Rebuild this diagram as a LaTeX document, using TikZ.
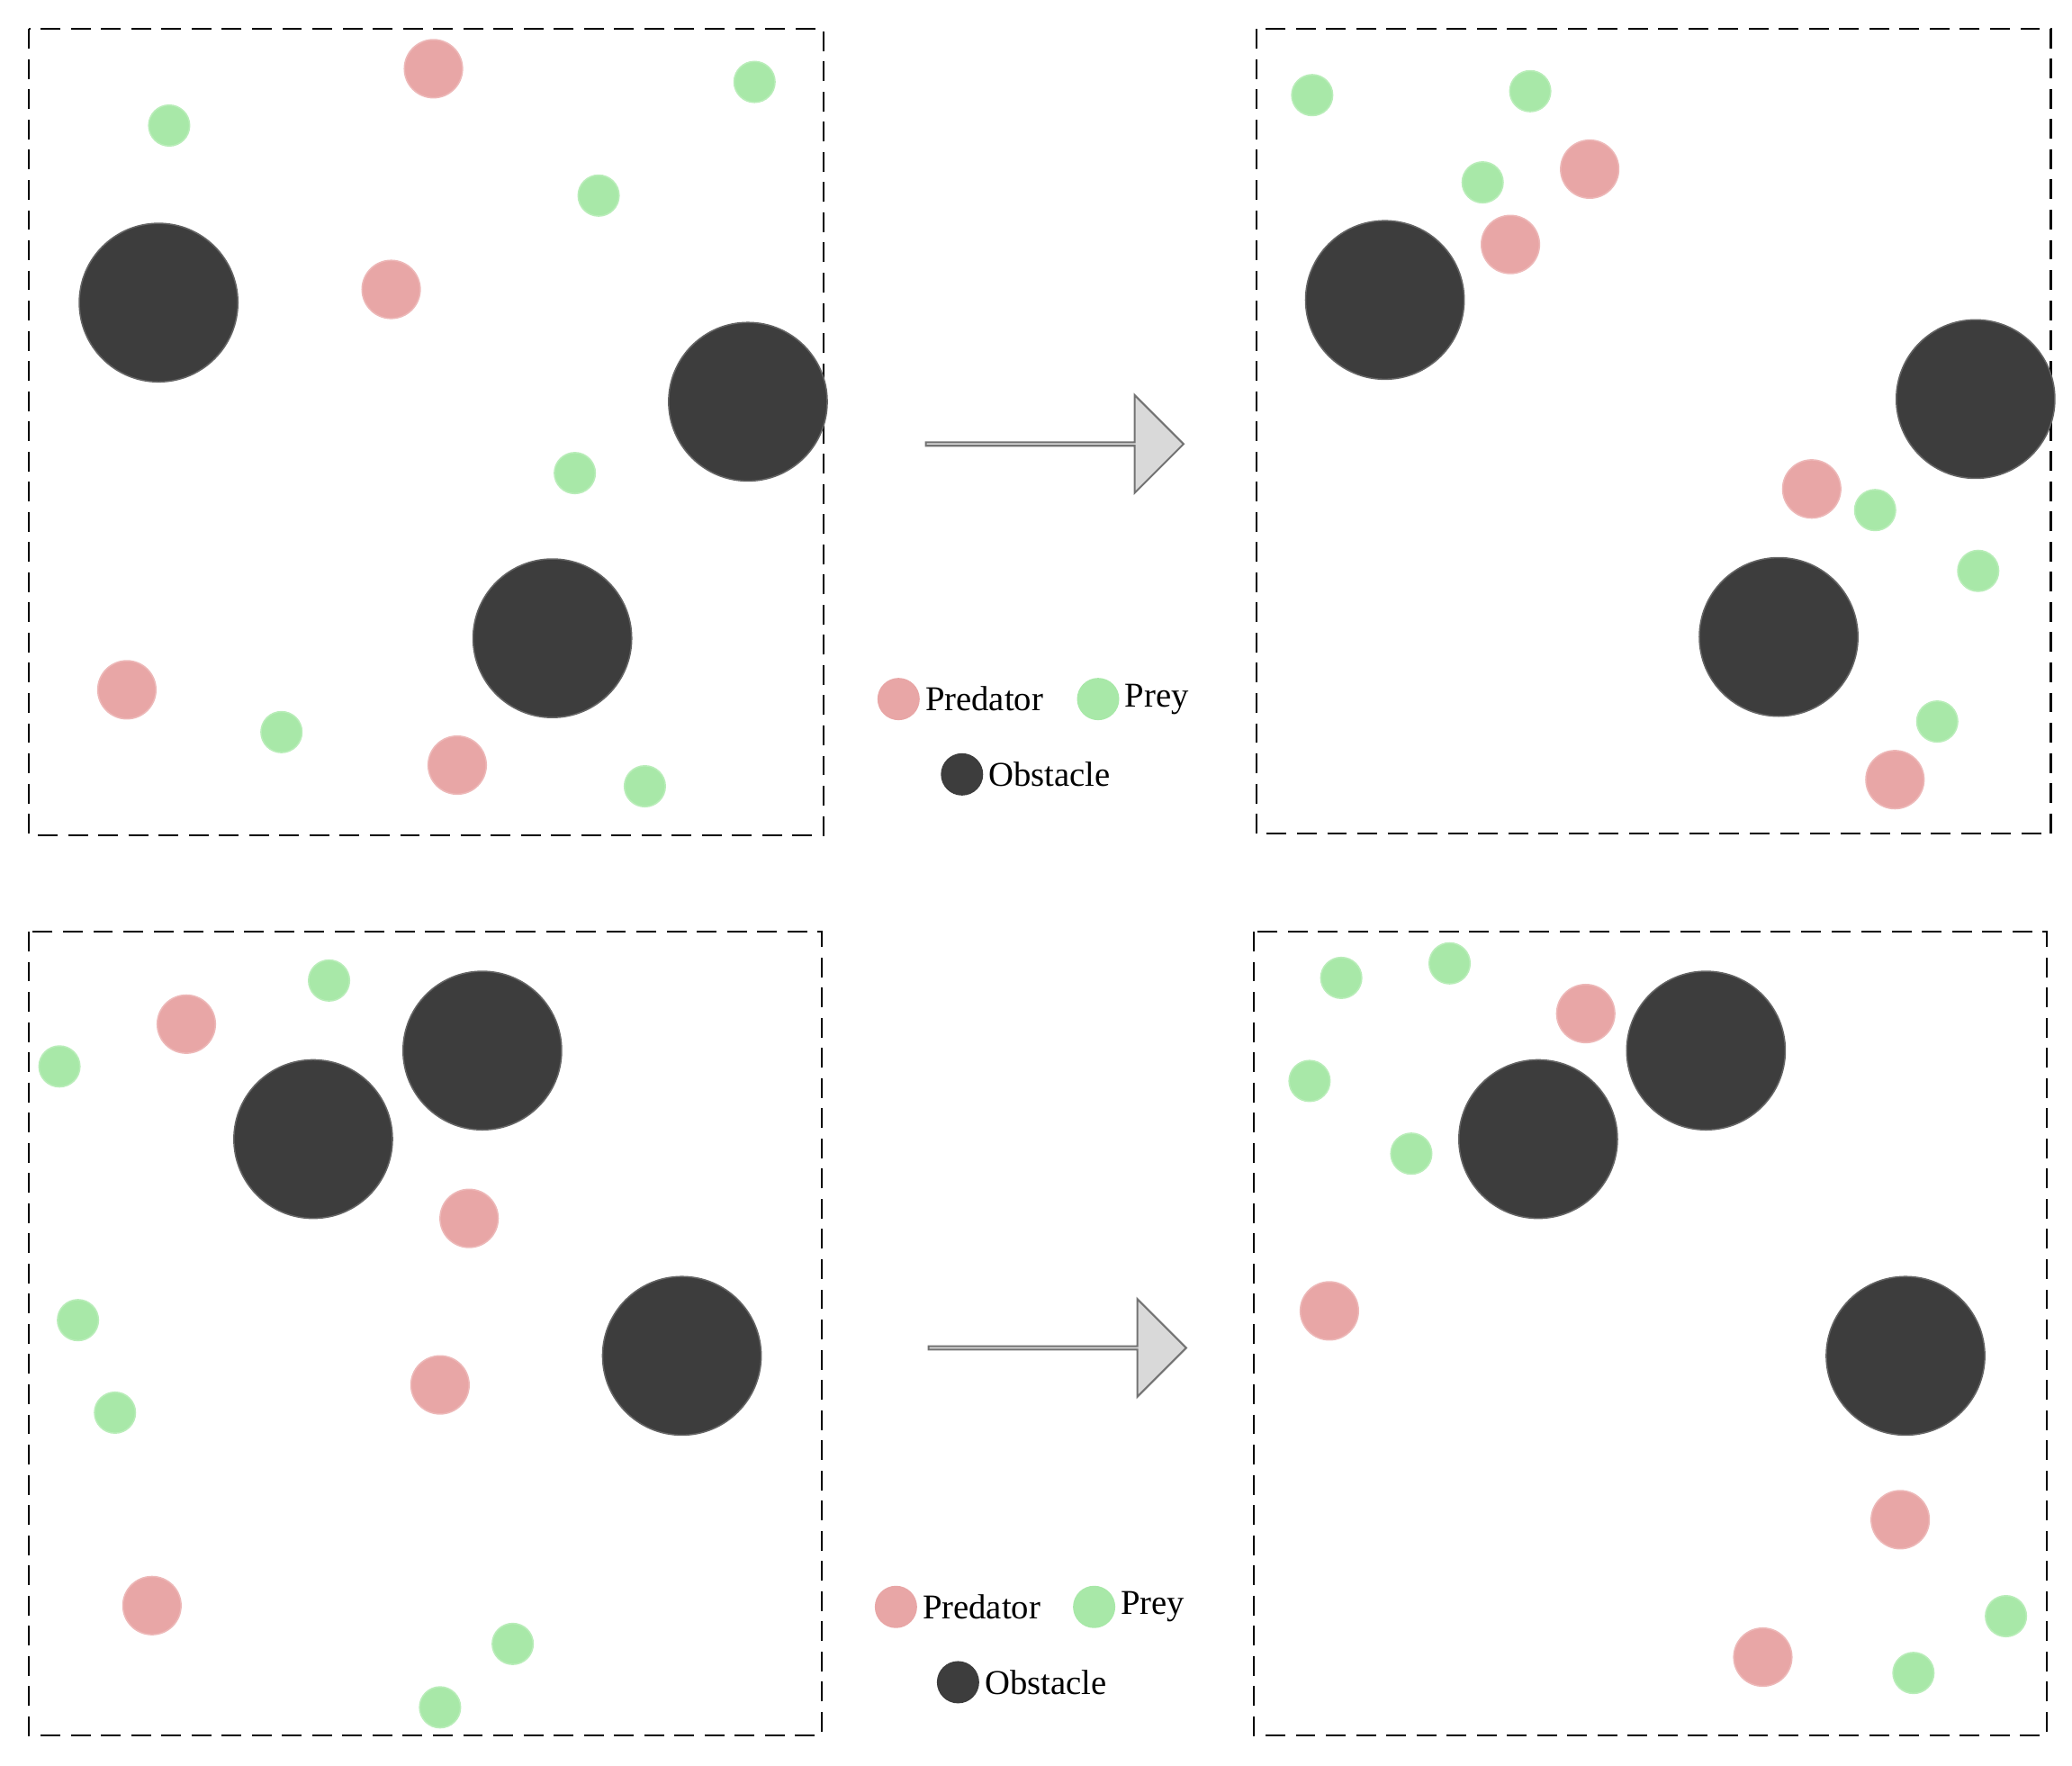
\documentclass[tikz,border=0pt]{standalone}
\usepackage{fontspec}
\setmainfont{Liberation Serif}
\usetikzlibrary{shapes.arrows,positioning}
\definecolor{predcol}{HTML}{E8A6A6}
\definecolor{preycol}{HTML}{A8E8A8}
\definecolor{obstcol}{HTML}{3D3D3D}
\tikzset{pred/.style={circle, fill=predcol, draw=predcol!80!white, line width=0.6pt, minimum size=44*0.02cm, inner sep=0pt},
         prey/.style={circle, fill=preycol, draw=preycol!80!white, line width=0.6pt, minimum size=31*0.02cm, inner sep=0pt},
         obst/.style={circle, fill=obstcol, draw=obstcol!80!white, line width=0.6pt, minimum size=120*0.02cm, inner sep=0pt},
         legdot/.style={circle, inner sep=0pt, minimum size=32*0.02cm},
         legtext/.style={font=\fontsize{15}{18}\selectfont, inner sep=1pt},
         panel/.style={draw, line width=0.85pt, dash pattern=on 8.5pt off 4.5pt},
         bigarrow/.style={single arrow, draw=gray!90!black, fill=gray!30, line width=0.8pt,
                          minimum height=195*0.02cm, minimum width=74*0.02cm,
                          single arrow head extend=19*0.02cm, single arrow tip angle=90, inner sep=0pt}}
\begin{document}
\begin{tikzpicture}[x=0.02cm,y=-0.02cm]
    \useasboundingbox (0,0) rectangle (1568,1336);

    % Panels
    \draw [panel] (22,22) rectangle (623,632);
    \draw [panel] (951,22) rectangle (1552,631);
    \draw [panel] (22,705) rectangle (622,1313);
    \draw [panel] (949,705) rectangle (1549,1313);

    % Top left
    \foreach \p [count=\i] in {(120,229),(566,304),(418,483)} \node [obst] (tlo\i) at \p {};
    \foreach \p [count=\i] in {(328,52),(296,219),(96,522),(346,579)} \node [pred] (tla\i) at \p {};
    \foreach \p [count=\i] in {(128,95),(571,62),(453,148),(435,358),(213,554),(488,595)} \node [prey] (tlb\i) at \p {};

    % Top right
    \foreach \p [count=\i] in {(1048,227),(1495,302),(1346,482)} \node [obst] (tro\i) at \p {};
    \foreach \p [count=\i] in {(1203,128),(1143,185),(1371,370),(1434,590)} \node [pred] (tra\i) at \p {};
    \foreach \p [count=\i] in {(993,72),(1158,69),(1122,138),(1419,386),(1497,432),(1466,546)} \node [prey] (trb\i) at \p {};

    % Bottom left
    \foreach \p [count=\i] in {(237,862),(365,795),(516,1026)} \node [obst] (blo\i) at \p {};
    \foreach \p [count=\i] in {(141,775),(355,922),(333,1048),(115,1215)} \node [pred] (bla\i) at \p {};
    \foreach \p [count=\i] in {(249,742),(45,807),(59,999),(87,1069),(388,1244),(333,1292)} \node [prey] (blb\i) at \p {};

    % Bottom right
    \foreach \p [count=\i] in {(1164,862),(1291,795),(1442,1026)} \node [obst] (bro\i) at \p {};
    \foreach \p [count=\i] in {(1200,767),(1006,992),(1438,1150),(1334,1254)} \node [pred] (bra\i) at \p {};
    \foreach \p [count=\i] in {(1015,740),(1097,729),(991,818),(1068,873),(1518,1223),(1448,1266)} \node [prey] (brb\i) at \p {};

    % Arrows
    \node [bigarrow] (arrtop) at (797.5,336) {};
    \node [bigarrow] (arrbot) at (799.5,1020) {};

    % Legends
    \node [legdot, fill=predcol] (tpred) at (680,529) {};
    \node [legtext, right=1pt of tpred] (tpredl) {Predator};
    \node [legdot, fill=preycol] (tprey) at (831,529) {};
    \node [legtext, right=1pt of tprey] (tpreyl) {Prey};
    \node [legdot, fill=obstcol] (tobst) at (728,586) {};
    \node [legtext, right=1pt of tobst] (tobstl) {Obstacle};

    \node [legdot, fill=predcol] (bpred) at (678,1216) {};
    \node [legtext, right=1pt of bpred] (bpredl) {Predator};
    \node [legdot, fill=preycol] (bprey) at (828,1216) {};
    \node [legtext, right=1pt of bprey] (bpreyl) {Prey};
    \node [legdot, fill=obstcol] (bobst) at (725,1273) {};
    \node [legtext, right=1pt of bobst] (bobstl) {Obstacle};

\end{tikzpicture}
\end{document}
